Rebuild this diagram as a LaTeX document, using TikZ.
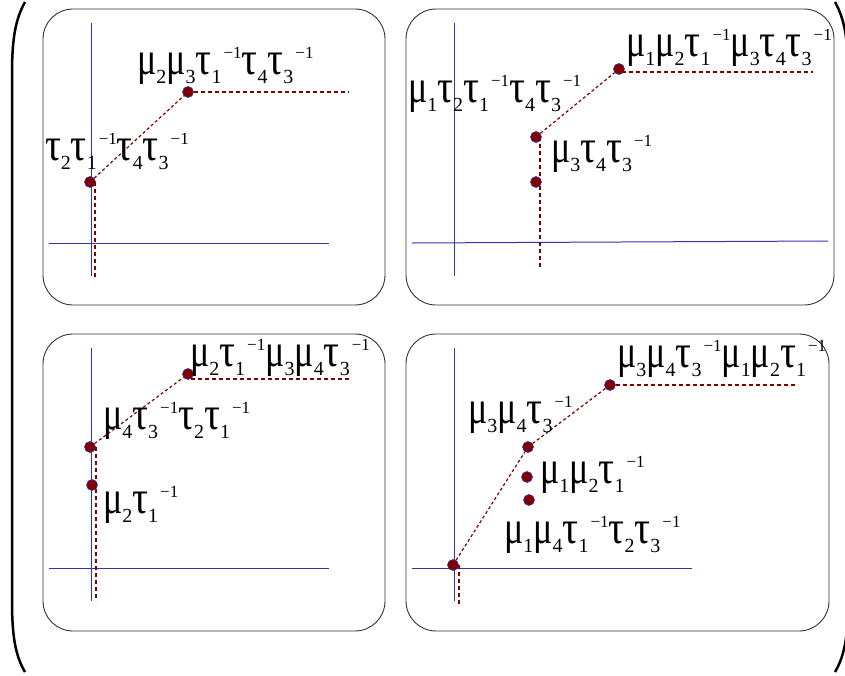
\documentclass[tikz,border=0pt]{standalone}
\usepackage{fontspec}
\usepackage{graphicx}
\setmainfont{Liberation Serif}
\definecolor{axisblue}{RGB}{50,50,175}
\definecolor{dred}{RGB}{128,0,0}
\definecolor{boxgray}{RGB}{50,50,50}
\newcommand\lo[1]{\raisebox{-9pt}{\fontsize{20}{20}\selectfont #1}}
\newcommand\inv{\hspace{2pt}\raisebox{16pt}{\fontsize{17}{17}\selectfont −1}}
\newcommand\gmu[1]{\scalebox{1}[1.3]{\fontsize{36}{36}\selectfont μ}\lo{#1}}
\newcommand\gtau[1]{\scalebox{1.1}[1.3]{\fontsize{36}{36}\selectfont τ}\lo{#1}}
\tikzset{
  panel/.style={draw=boxgray, line width=0.9pt, rounded corners=30pt},
  axis/.style={draw=axisblue, line width=1pt},
  trail/.style={draw=dred, line width=1.5pt, dash pattern=on 4pt off 3pt},
  slant/.style={draw=dred, line width=1.2pt, dash pattern=on 3pt off 2.5pt},
  dot/.style={circle, fill=dred, draw=axisblue, line width=0.6pt, minimum size=11pt, inner sep=0pt},
  tag/.style={anchor=base west, inner sep=0pt, outer sep=0pt},
  bracket/.style={draw=black, line width=2.5pt}
}
\begin{document}
\begin{tikzpicture}[x=1pt,y=-1pt]
\useasboundingbox (0,0) rectangle (845,675);
\clip (0,0) rectangle (845,675);
% parentheses
\draw[bracket] (25,2) .. controls (15,20) and (12,40) .. (12,75) -- (12,600) .. controls (12,635) and (15,655) .. (25,672);
\draw[bracket] (835,2) .. controls (845,20) and (848,40) .. (848,75) -- (848,600) .. controls (848,635) and (845,655) .. (835,672);
% panels
\draw[panel] (43,9) rectangle (385,305);
\draw[panel] (406,9) rectangle (834,305);
\draw[panel] (43,334) rectangle (385,631);
\draw[panel] (406,334) rectangle (829,631);

% ---------- panel 1 ----------
\draw[axis] (91,23) -- (91,276);
\draw[axis] (49,243) -- (329,243);
\node[dot] (a1) at (90,182) {};
\node[dot] (a2) at (188,92) {};
\coordinate (a2e) at (348,92);
\coordinate (a1s) at (95,277);
\draw[slant] (a1) -- (a2);
\draw[trail] (a2) -- (a2e);
\draw[trail] ([xshift=5pt]a1.center) -- (a1s);
\node[tag] (la2) at (137,74) {\gmu2\gmu3\gtau1\inv\gtau4\gtau3\inv};
\node[tag] (la1) at (45,160) {\gtau2\gtau1\inv\gtau4\gtau3\inv};

% ---------- panel 2 ----------
\draw[axis] (454,23) -- (454,276);
\draw[axis] (412,243) -- (828,241);
\node[dot] (b1) at (536,137) {};
\node[dot] (b0) at (536,182) {};
\node[dot] (b2) at (619,69) {};
\coordinate (b2e) at (813,72);
\coordinate (b1s) at (540,268);
\draw[slant] (b1) -- (b2);
\draw[trail] ([xshift=3pt,yshift=-3pt]b2.center) -- (b2e);
\draw[trail] ([xshift=4pt]b1.center) -- (b1s);
\node[tag] (lb1) at (408,102) {\gmu1\gtau2\gtau1\inv\gtau4\gtau3\inv};
\node[tag] (lb0) at (551,162) {\gmu3\gtau4\gtau3\inv};
\node[tag] (lb2) at (626,56) {\gmu1\gmu2\gtau1\inv\gmu3\gtau4\gtau3\inv};

% ---------- panel 3 ----------
\draw[axis] (91,348) -- (91,601);
\draw[axis] (49,568) -- (329,568);
\node[dot] (c1) at (90,447) {};
\node[dot] (c0) at (92,485) {};
\node[dot] (c2) at (188,374) {};
\coordinate (c2e) at (349,379);
\coordinate (c1s) at (96,601);
\draw[slant] (c1) -- (c2);
\draw[trail] ([xshift=3pt,yshift=-5pt]c2.center) -- (c2e);
\draw[trail] ([xshift=6pt]c1.center) -- (c1s);
\node[tag] (lc2) at (190,366) {\gmu2\gtau1\inv\gmu3\gmu4\gtau3\inv};
\node[tag] (lc1) at (103,429) {\gmu4\gtau3\inv\gtau2\gtau1\inv};
\node[tag] (lc0) at (103,513) {\gmu2\gtau1\inv};

% ---------- panel 4 ----------
\draw[axis] (454,348) -- (454,601);
\draw[axis] (412,568) -- (692,568);
\node[dot] (d0) at (453,565) {};
\node[dot] (d1) at (528,447) {};
\node[dot] (d2) at (527,477) {};
\node[dot] (d3) at (529,500) {};
\node[dot] (d4) at (610,385) {};
\coordinate (d4e) at (795,385);
\coordinate (d0s) at (459,606);
\draw[slant] (d0) -- (d1);
\draw[slant] (d1) -- (d4);
\draw[trail] (d4) -- (d4e);
\draw[trail] ([xshift=6pt]d0.center) -- (d0s);
\node[tag] (ld4) at (617,367) {\gmu3\gmu4\gtau3\inv\gmu1\gmu2\gtau1\inv};
\node[tag] (ld1) at (468,423) {\gmu3\gmu4\gtau3\inv};
\node[tag] (ld2) at (540,483) {\gmu1\gmu2\gtau1\inv};
\node[tag] (ld3) at (504,543) {\gmu1\gmu4\gtau1\inv\gtau2\gtau3\inv};
\end{tikzpicture}
\end{document}
